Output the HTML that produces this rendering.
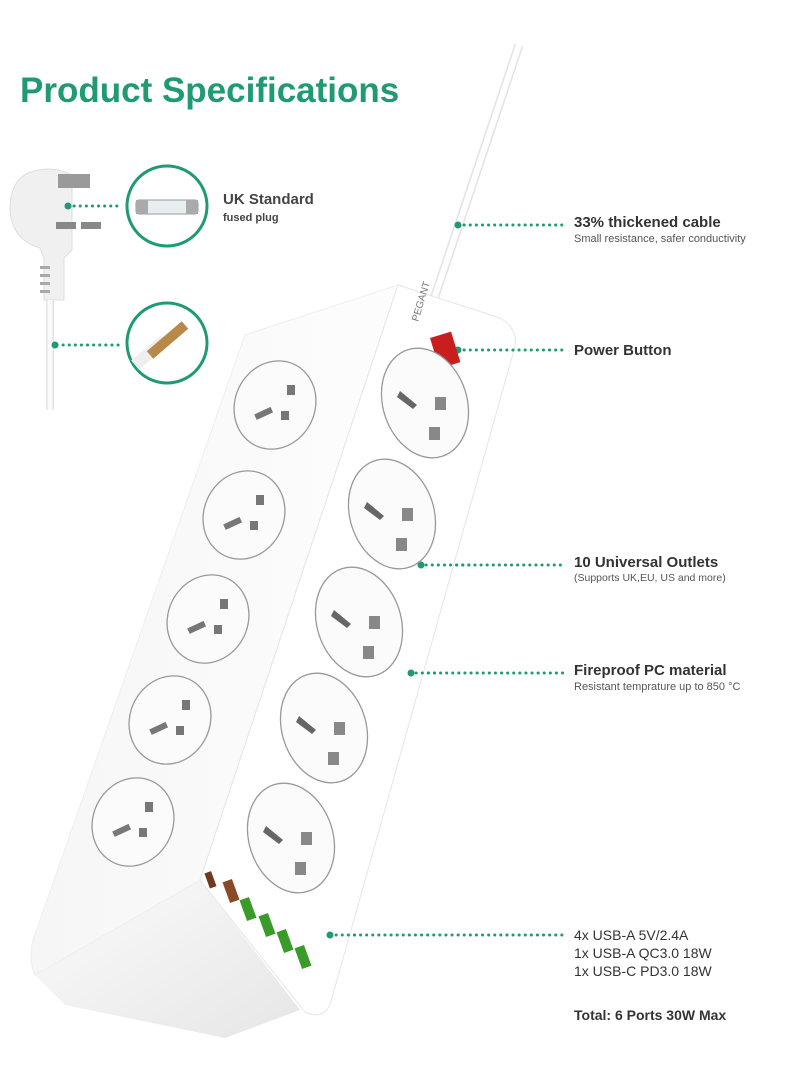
<!DOCTYPE html>
<html><head><meta charset="utf-8"><style>
body{margin:0;background:#fff;}
svg{display:block}
text{font-family:"Liberation Sans",sans-serif}
</style></head><body>
<svg width="800" height="1091" viewBox="0 0 800 1091" xmlns="http://www.w3.org/2000/svg">
<defs>
<linearGradient id="base" x1="0" y1="0" x2="1" y2="1"><stop offset="0" stop-color="#fbfbfb"/><stop offset="1" stop-color="#e6e6e6"/></linearGradient>
<linearGradient id="left" x1="0" y1="0" x2="1" y2="0"><stop offset="0" stop-color="#f6f6f6"/><stop offset="1" stop-color="#fdfdfd"/></linearGradient>
<g id="lo" fill="#777"><rect x="-22" y="-2" width="18" height="6" transform="rotate(-25)"/><rect x="6" y="4" width="8" height="9"/><rect x="12" y="-22" width="8" height="10"/></g>
<g id="ro" fill="#666"><path d="M-25 -12 L-8 2 L-12 6 L-28 -6Z"/><rect x="10" y="-6" width="11" height="13" fill="#888"/><rect x="4" y="24" width="11" height="13" fill="#888"/></g>
</defs>
<rect width="800" height="1091" fill="#fff"/>
<text x="20" y="102" font-size="35" font-weight="bold" fill="#1f9a73">Product Specifications</text>

<!-- cable to strip -->
<path d="M519 45 L432 305" stroke="#e2e2e2" stroke-width="9" fill="none"/>
<path d="M519 45 L432 305" stroke="#fff" stroke-width="6" fill="none"/>

<!-- plug -->
<path d="M30 172 Q10 180 10 210 Q12 240 40 248 L44 258 L44 300 L64 300 L64 258 L72 250 L72 175 Q55 165 30 172Z" fill="#f0f0f0" stroke="#dedede"/>
<rect x="58" y="174" width="32" height="14" fill="#9a9a9a"/>
<rect x="56" y="222" width="20" height="7" fill="#888"/><rect x="81" y="222" width="20" height="7" fill="#888"/>
<g fill="#aaa"><rect x="40" y="266" width="10" height="3"/><rect x="40" y="274" width="10" height="3"/><rect x="40" y="282" width="10" height="3"/><rect x="40" y="290" width="10" height="3"/></g>
<path d="M50 300 L50 410" stroke="#e4e4e4" stroke-width="8"/>
<path d="M50 300 L50 410" stroke="#fafafa" stroke-width="5"/>

<!-- circles -->
<circle cx="167" cy="206" r="40" fill="#fff" stroke="#1f9a73" stroke-width="3"/>
<rect x="136" y="200" width="62" height="14" rx="3" fill="#e8eef0" stroke="#999"/>
<rect x="136" y="200" width="12" height="14" fill="#aaa"/><rect x="186" y="200" width="12" height="14" fill="#aaa"/>
<circle cx="167" cy="343" r="40" fill="#fff" stroke="#1f9a73" stroke-width="3"/>
<path d="M135 365 L165 340" stroke="#eee" stroke-width="12"/>
<path d="M150 355 L185 325" stroke="#b88a4a" stroke-width="10"/>

<!-- dotted connectors -->
<g stroke="#1f9a73" stroke-width="3" stroke-dasharray="0.1 6" stroke-linecap="round" fill="none">
<path d="M68 206 L122 206"/><path d="M57 345 L122 345"/>
<path d="M458 225 L565 225"/><path d="M458 350 L565 350"/>
<path d="M420 565 L565 565"/><path d="M410 673 L565 673"/>
<path d="M330 935 L565 935"/>
</g>
<g fill="#1f9a73"><circle cx="68" cy="206" r="3.5"/><circle cx="55" cy="345" r="3.5"/><circle cx="458" cy="225" r="3.5"/><circle cx="458" cy="350" r="3.5"/><circle cx="421" cy="565" r="3.5"/><circle cx="411" cy="673" r="3.5"/><circle cx="330" cy="935" r="3.5"/></g>

<!-- strip body -->
<path d="M35 975 L200 880 L300 1010 L225 1038 L65 1005 Z" fill="url(#base)"/>
<path d="M245 335 L398 285 L200 880 L35 975 Q28 960 33 940 Z" fill="url(#left)" stroke="#eee"/>
<path d="M398 285 L500 318 Q520 330 514 350 L330 1005 Q322 1020 305 1012 L200 880 Z" fill="#fff" stroke="#e6e6e6"/>
<g stroke="#1f9a73" stroke-width="3" stroke-dasharray="0.1 6" stroke-linecap="round" fill="none">
<path d="M458 350 L515 350"/><path d="M420 565 L470 565"/><path d="M410 673 L440 673"/><path d="M330 935 L360 935"/>
</g>
<g fill="#1f9a73"><circle cx="458" cy="350" r="3.5"/><circle cx="421" cy="565" r="3.5"/><circle cx="411" cy="673" r="3.5"/><circle cx="330" cy="935" r="3.5"/></g>

<text x="0" y="0" font-size="10" fill="#777" transform="translate(418 322) rotate(-73)">PEGANT</text>
<rect x="0" y="0" width="22" height="32" fill="#c81e1e" transform="translate(430 338) rotate(-17)"/>

<!-- outlets -->
<g fill="#fbfbfb" stroke="#999" stroke-width="1.3">
<ellipse cx="275" cy="405" rx="40" ry="45" transform="rotate(25 275 405)"/>
<ellipse cx="244" cy="515" rx="40" ry="45" transform="rotate(25 244 515)"/>
<ellipse cx="208" cy="619" rx="40" ry="45" transform="rotate(25 208 619)"/>
<ellipse cx="170" cy="720" rx="40" ry="45" transform="rotate(25 170 720)"/>
<ellipse cx="133" cy="822" rx="40" ry="45" transform="rotate(25 133 822)"/>
<ellipse cx="425" cy="403" rx="42" ry="56" transform="rotate(-18 425 403)"/>
<ellipse cx="392" cy="514" rx="42" ry="56" transform="rotate(-18 392 514)"/>
<ellipse cx="359" cy="622" rx="42" ry="56" transform="rotate(-18 359 622)"/>
<ellipse cx="324" cy="728" rx="42" ry="56" transform="rotate(-18 324 728)"/>
<ellipse cx="291" cy="838" rx="42" ry="56" transform="rotate(-18 291 838)"/>
</g>
<use href="#lo" transform="translate(275 407)"/><use href="#lo" transform="translate(244 517)"/><use href="#lo" transform="translate(208 621)"/><use href="#lo" transform="translate(170 722)"/><use href="#lo" transform="translate(133 824)"/>
<use href="#ro" transform="translate(425 403)"/><use href="#ro" transform="translate(392 514)"/><use href="#ro" transform="translate(359 622)"/><use href="#ro" transform="translate(324 728)"/><use href="#ro" transform="translate(291 838)"/>

<!-- USB ports -->
<rect x="207" y="872" width="7" height="16" fill="#6b3a20" transform="rotate(-20 210 880)"/>
<rect x="226" y="880" width="10" height="22" fill="#8a4a25" transform="rotate(-20 231 891)"/>
<g fill="#3a9a2a">
<rect x="243" y="898" width="10" height="22" transform="rotate(-20 248 909)"/>
<rect x="262" y="914" width="10" height="22" transform="rotate(-20 267 925)"/>
<rect x="280" y="930" width="10" height="22" transform="rotate(-20 285 941)"/>
<rect x="298" y="946" width="10" height="22" transform="rotate(-20 303 957)"/>
</g>

<!-- labels -->
<text x="223" y="204" font-size="15" font-weight="bold" fill="#444">UK Standard</text>
<text x="223" y="221" font-size="11" font-weight="bold" fill="#444">fused plug</text>
<text x="574" y="227" font-size="15" font-weight="bold" fill="#333">33% thickened cable</text>
<text x="574" y="242" font-size="11" fill="#555">Small resistance, safer conductivity</text>
<text x="574" y="355" font-size="15" font-weight="bold" fill="#333">Power Button</text>
<text x="574" y="567" font-size="15" font-weight="bold" fill="#333">10 Universal Outlets</text>
<text x="574" y="581" font-size="10.5" fill="#555">(Supports UK,EU, US and more)</text>
<text x="574" y="675" font-size="15" font-weight="bold" fill="#333">Fireproof PC material</text>
<text x="574" y="690" font-size="11" fill="#555">Resistant temprature up to 850 °C</text>
<text x="574" y="940" font-size="14" fill="#333">4x USB-A 5V/2.4A</text>
<text x="574" y="958" font-size="14" fill="#333">1x USB-A QC3.0 18W</text>
<text x="574" y="976" font-size="14" fill="#333">1x USB-C PD3.0 18W</text>
<text x="574" y="1020" font-size="14" font-weight="bold" fill="#333">Total: 6 Ports 30W Max</text>
</svg>
</body></html>
